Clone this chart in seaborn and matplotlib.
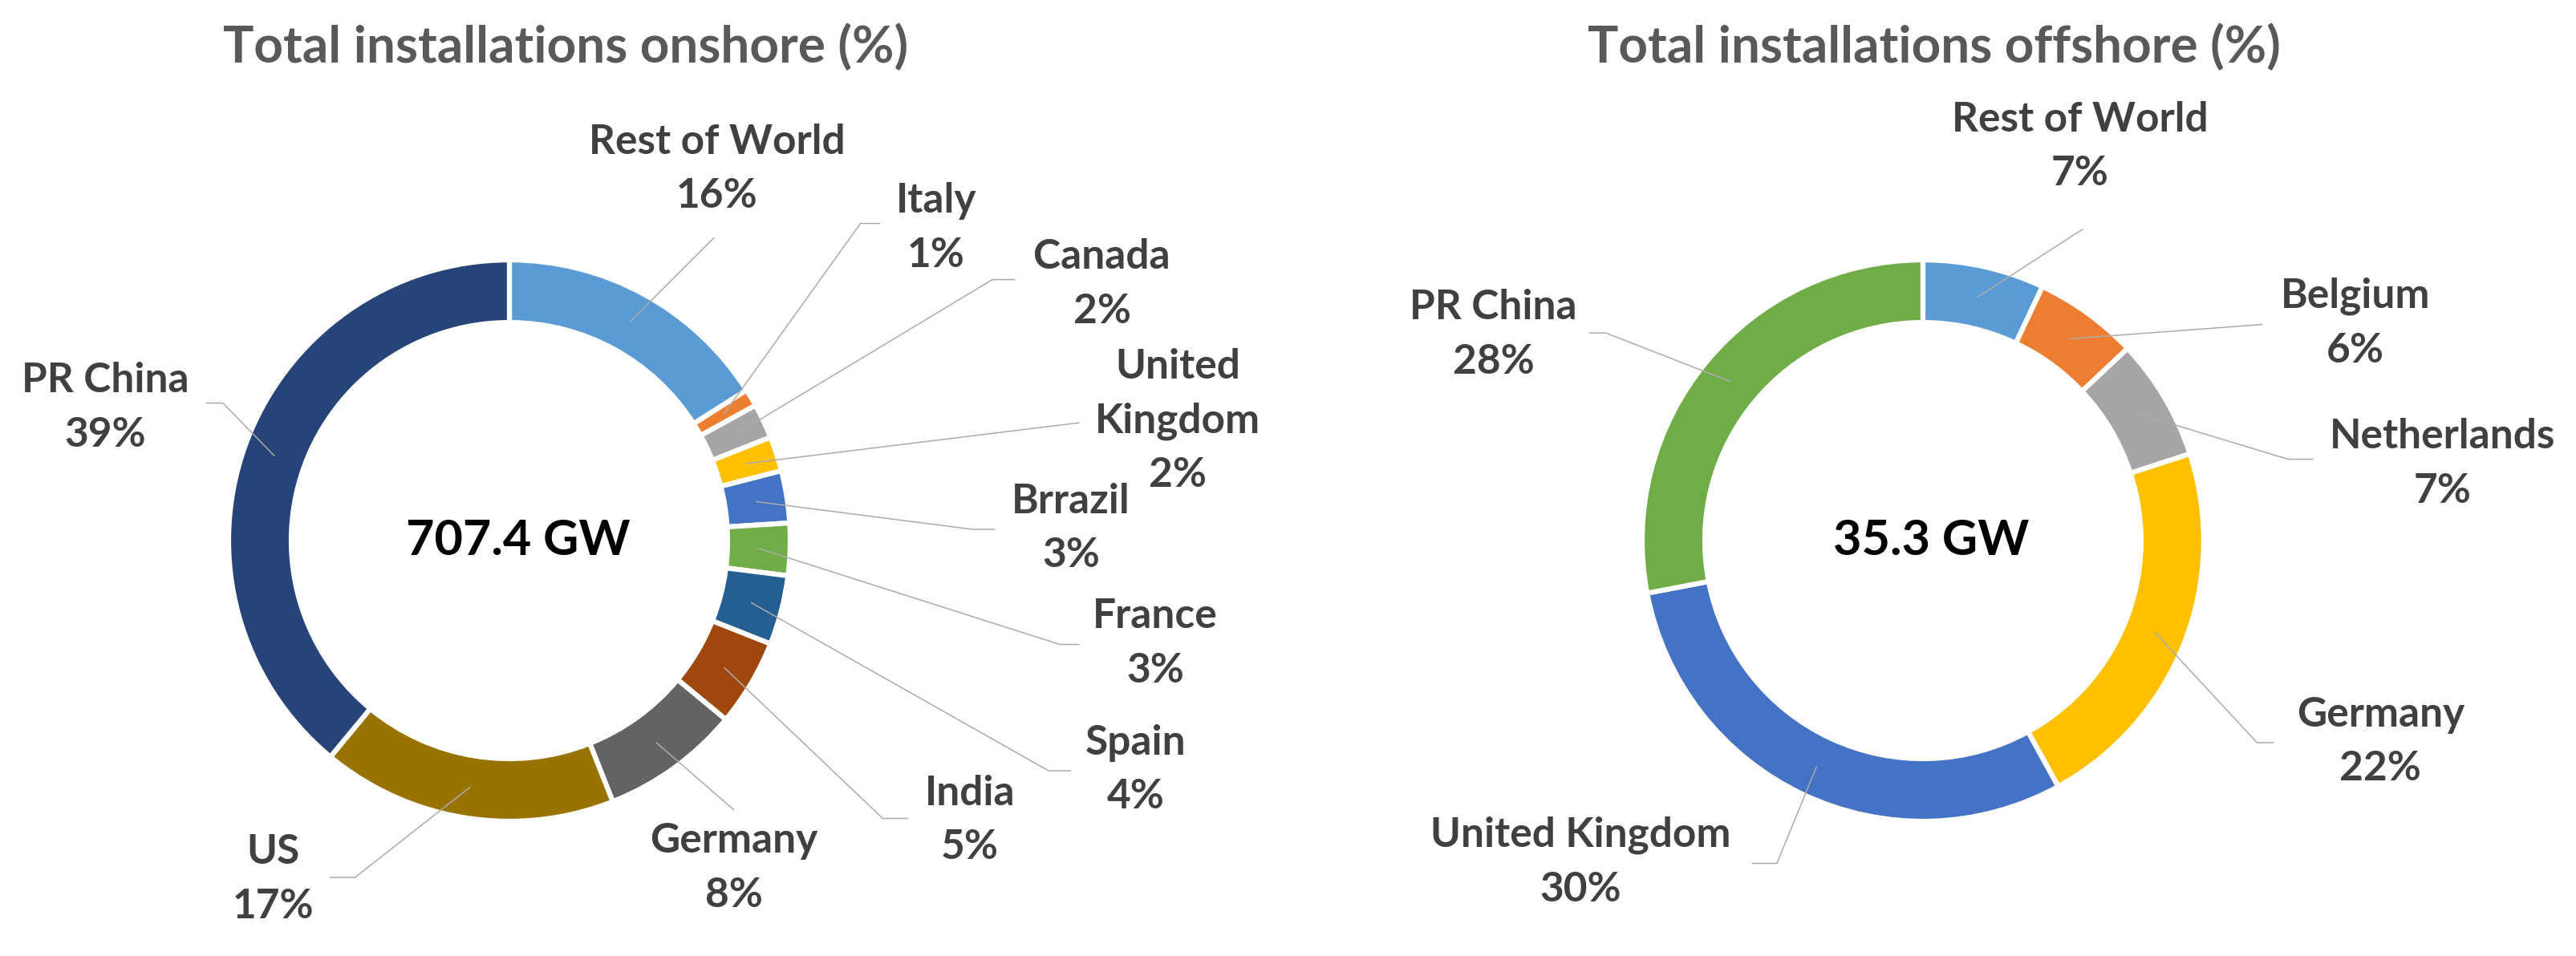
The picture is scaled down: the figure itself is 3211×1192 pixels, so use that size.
import matplotlib
matplotlib.use('Agg')
import matplotlib.pyplot as plt
import seaborn as sns
import numpy as np

# --- data ---
onshore_countries = ['Rest of World', 'Italy', 'Canada', 'United\nKingdom', 'Brrazil', 'France',
                     'Spain', 'India', 'Germany', 'US', 'PR China']
onshore_share = [16, 1, 2, 2, 3, 3, 4, 5, 8, 17, 39]
onshore_total = '707.4 GW'

offshore_countries = ['Rest of World', 'Belgium', 'Netherlands', 'Germany', 'United Kingdom', 'PR China']
offshore_share = [7, 6, 7, 22, 30, 28]
offshore_total = '35.3 GW'

# --- styling ---
onshore_colors = ['#5B9BD5', '#ED7D31', '#A5A5A5', '#FFC000', '#4472C4', '#70AD47',
                  '#255E91', '#9E480E', '#636363', '#997300', '#264478']
offshore_colors = ['#5B9BD5', '#ED7D31', '#A5A5A5', '#FFC000', '#4472C4', '#70AD47']

# label layout (data units, donut outer radius = 1): text position, leader elbow, tick end
onshore_layout = [
    ((0.74, 1.42), (0.73, 1.08), None),
    ((1.52, 1.21), (1.25, 1.13), 1.32),
    ((2.11, 1.01), (1.72, 0.93), 1.80),
    ((2.38, 0.62), (2.03, 0.42), None),
    ((2.00, 0.14), (1.65, 0.04), 1.73),
    ((2.30, -0.27), (1.96, -0.37), 2.03),
    ((2.23, -0.72), (1.92, -0.82), 2.00),
    ((1.64, -0.90), (1.33, -0.99), 1.42),
    ((0.80, -1.07), (0.80, -0.96), None),
    ((-0.84, -1.11), (-0.55, -1.20), -0.64),
    ((-1.44, 0.57), (-1.02, 0.49), -1.08),
]
offshore_layout = [
    ((0.56, 1.50), (0.57, 1.11), None),
    ((1.54, 0.87), (1.21, 0.77), None),
    ((1.85, 0.37), (1.30, 0.29), 1.39),
    ((1.63, -0.62), (1.19, -0.72), 1.25),
    ((-1.22, -1.05), (-0.52, -1.15), -0.61),
    ((-1.53, 0.83), (-1.13, 0.74), -1.19),
]

sns.set_theme(style='white')
plt.rcParams['font.family'] = ['Lato', 'DejaVu Sans']

RING = 0.223
LINE_PITCH = 0.194
LABEL_COLOR = '#404040'
LEADER_COLOR = '#ABABAB'


def draw_donut(ax, names, values, colors, layout, total, title, title_x, xlim, ylim):
    wedges, _ = ax.pie(values, colors=colors, startangle=90, counterclock=False,
                       radius=1.0, wedgeprops=dict(width=RING, edgecolor='white', linewidth=4.5))
    mid_r = 1.0 - RING / 2
    for w, name, v, (txt, elbow, tick) in zip(wedges, names, values, layout):
        ang = np.deg2rad((w.theta1 + w.theta2) / 2)
        xs = [mid_r * np.cos(ang), elbow[0]]
        ys = [mid_r * np.sin(ang), elbow[1]]
        if tick is not None:
            xs.append(tick)
            ys.append(elbow[1])
        ax.plot(xs, ys, color=LEADER_COLOR, lw=1.1, zorder=3, solid_capstyle='butt')
        lines = name.split('\n') + [f'{v}%']
        for i, line in enumerate(lines):
            ax.text(txt[0], txt[1] - i * LINE_PITCH, line, ha='center', va='center',
                    fontsize=37, fontweight='bold', color=LABEL_COLOR)
    ax.text(0.03, 0.0, total, ha='center', va='center', fontsize=44,
            fontweight='bold', color='black')
    ax.text(title_x, 1.76, title, ha='center', va='center', fontsize=46,
            fontweight='bold', color='#595959')
    ax.set_xlim(*xlim)
    ax.set_ylim(*ylim)
    ax.set_aspect('auto')
    ax.axis('off')


fig = plt.figure(figsize=(32.12, 11.92), dpi=100)
fig.patch.set_facecolor('white')
ax1 = fig.add_axes([0, 0, 0.5, 1])
ax2 = fig.add_axes([0.5, 0, 0.5, 1])

draw_donut(ax1, onshore_countries, onshore_share, onshore_colors, onshore_layout,
           onshore_total, 'Total installations onshore (%)', 0.20,
           (-1.814, 2.774), (-1.48, 1.926))
draw_donut(ax2, offshore_countries, offshore_share, offshore_colors, offshore_layout,
           offshore_total, 'Total installations offshore (%)', 0.04,
           (-2.26, 2.329), (-1.48, 1.926))

fig.savefig('out.png', dpi=100, facecolor='white')
plt.close(fig)
